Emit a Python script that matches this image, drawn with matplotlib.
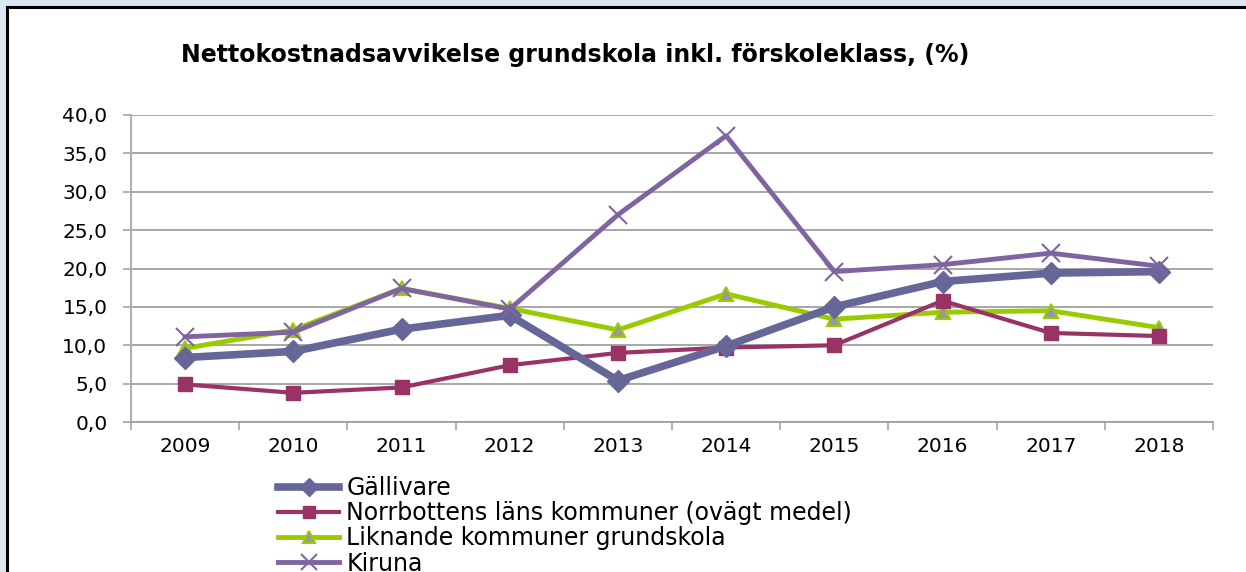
import matplotlib.pyplot as plt
import matplotlib.patches as mpatches
from matplotlib.lines import Line2D

years = ['2009', '2010', '2011', '2012', '2013', '2014', '2015', '2016', '2017', '2018']
gallivare = [8.4, 9.2, 12.1, 13.9, 5.4, 9.9, 15.0, 18.3, 19.4, 19.6]
norrbotten = [4.9, 3.8, 4.5, 7.4, 9.0, 9.7, 10.0, 15.8, 11.6, 11.2]
liknande = [9.6, 12.0, 17.4, 14.8, 12.0, 16.7, 13.4, 14.3, 14.5, 12.3]
kiruna = [11.1, 11.7, 17.4, 14.7, 27.0, 37.3, 19.6, 20.5, 22.0, 20.3]

title = 'Nettokostnadsavvikelse grundskola inkl. förskoleklass, (%)'
labels = ['Gällivare', 'Norrbottens läns kommuner (ovägt medel)',
          'Liknande kommuner grundskola', 'Kiruna']

plt.rcParams['font.family'] = ['DejaVu Sans']

W, H = 1246, 572
fig = plt.figure(figsize=(W / 100, H / 100), dpi=100)
fig.patch.set_facecolor('white')
fig.patch.set_linewidth(0)

# bluish strips on top and left, black frame line inside them
fig.patches.append(mpatches.Rectangle((0, 1 - 6 / H), 1, 6 / H, transform=fig.transFigure,
                                      facecolor='#dce6f2', edgecolor='none', lw=0, zorder=-1))
fig.patches.append(mpatches.Rectangle((0, 0), 6 / W, 1, transform=fig.transFigure,
                                      facecolor='#dce6f2', edgecolor='none', lw=0, zorder=-1))
fig.add_artist(Line2D([7 / W, 7 / W], [0, 1 - 7 / H], transform=fig.transFigure,
                      color='black', lw=2.2, zorder=-0.5))
fig.add_artist(Line2D([7 / W, 1], [1 - 7 / H, 1 - 7 / H], transform=fig.transFigure,
                      color='black', lw=2.2, zorder=-0.5))

ax = fig.add_axes([131 / W, 1 - 422 / H, (1213 - 131) / W, (422 - 115) / H])
ax.set_facecolor('none')

x = list(range(len(years)))
ax.plot(x, gallivare, color='#666699', lw=5.5, marker='D', ms=11, mfc='#666699',
        mec='#666699', label=labels[0], zorder=5, solid_joinstyle='round')
ax.plot(x, norrbotten, color='#993366', lw=3, marker='s', ms=10, mfc='#993366',
        mec='#993366', label=labels[1], zorder=4)
ax.plot(x, liknande, color='#99cc00', lw=3.5, marker='^', ms=10, mfc='#999999',
        mec='#99cc00', mew=1.5, label=labels[2], zorder=3)
ax.plot(x, kiruna, color='#8064a2', lw=3.5, marker='x', ms=13, mew=1.5,
        mec='#8064a2', label=labels[3], zorder=6)

ax.set_xlim(-0.5, len(years) - 0.5)
ax.set_ylim(0, 40)
ax.set_yticks(range(0, 41, 5))
ax.set_yticklabels([f'{v:.1f}'.replace('.', ',') for v in range(0, 41, 5)], fontsize=14.5)
ax.set_xticks(x)
ax.set_xticklabels(years, fontsize=14.5)
ax.set_xticks([i - 0.5 for i in range(len(years) + 1)], minor=True)
ax.tick_params(axis='x', which='major', length=0, pad=11)
ax.tick_params(axis='x', which='minor', length=6, color='#a6a6a6', width=1.2)
ax.tick_params(axis='y', length=6, color='#a6a6a6', width=1.2, pad=11)

ax.grid(axis='y', color='#a0a0a0', lw=1.3)
ax.set_axisbelow(True)
for s in ['top', 'right']:
    ax.spines[s].set_visible(False)
ax.spines['left'].set_color('#b0b0b0')
ax.spines['bottom'].set_color('#a0a0a0')
ax.spines['left'].set_linewidth(1.5)
ax.spines['bottom'].set_linewidth(1.3)

fig.text(575 / W, 1 - 55 / H, title, ha='center', va='center', fontsize=17, fontweight='bold')

fig.legend(loc='upper left', bbox_to_anchor=(278 / W, 1 - 476 / H), frameon=False,
           fontsize=17, handlelength=2.6, handletextpad=0.3, labelspacing=0.05,
           borderpad=0, borderaxespad=0, markerscale=0.85)

fig.savefig('out.png', dpi=100, facecolor=fig.get_facecolor())
